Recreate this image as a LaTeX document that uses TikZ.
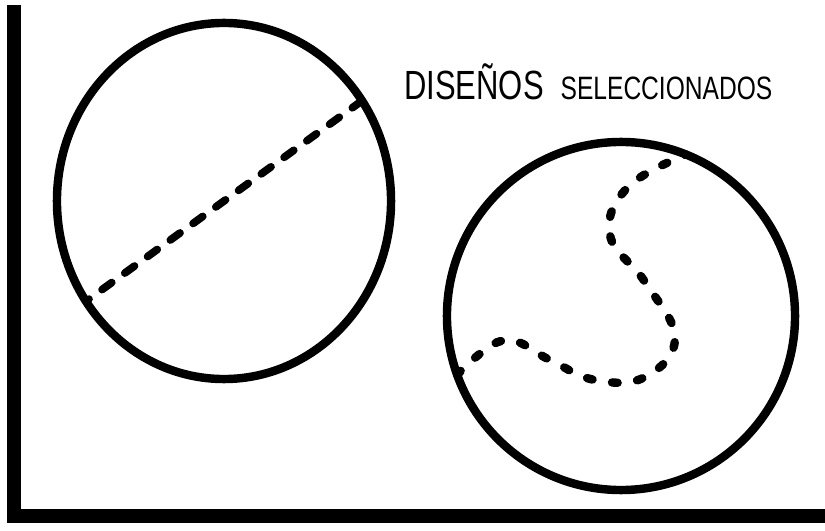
\documentclass[tikz,border=0pt]{standalone}
\usepackage{fontspec}
\newfontfamily\letrero[FakeStretch=0.76]{Liberation Sans}
\usetikzlibrary{shapes.geometric}

\begin{document}
\begin{tikzpicture}[
    x=0.025cm, y=-0.025cm,
    circulo/.style={draw, ellipse, line width=6pt, inner sep=0pt, outer sep=0pt},
    recta/.style={line width=5.5pt, line cap=round, dash pattern=on 8.5pt off 11.5pt},
    puntos/.style={line width=6pt, line cap=round, dash pattern=on 4pt off 14pt},
    marco/.style={line width=10pt},
    rotulo/.style={font=\letrero, anchor=base west, inner sep=0pt}
  ]
    \useasboundingbox (0,0) rectangle (825,531);
    \draw[marco] (14,5) -- (14,516) -- (825,516);
    \node[circulo, minimum width=8.35cm, minimum height=8.9cm] (izq) at (224,201) {};
    \node[circulo, minimum size=8.7cm] (der) at (621,316) {};
    \draw[recta] (izq.36) -- (izq.216);
    \draw[puntos] plot[smooth, tension=0.7] coordinates {(der.200) (472,360) (508,340) (550,360) (595,380) (645,377) (675,338) (645,282) (610,235) (628,187) (der.68)};
    \node[rotulo] (titulo) at (404,100) {{\fontsize{29}{30}\selectfont DISEÑOS}\hspace{12pt}{\fontsize{23}{24}\selectfont SELECCIONADOS}};
\end{tikzpicture}
\end{document}
